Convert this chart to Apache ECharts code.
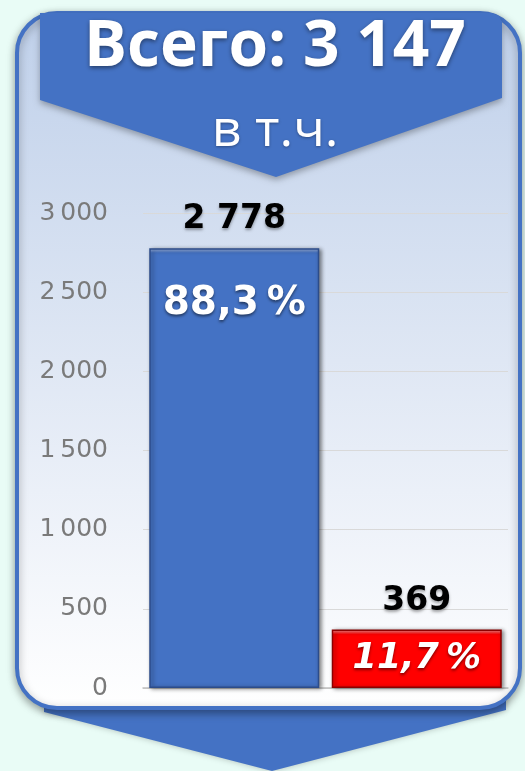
<!DOCTYPE html>
<html><head><meta charset="utf-8">
<script src="https://cdn.jsdelivr.net/npm/echarts@6/dist/echarts.min.js"></script>
<style>html,body{margin:0;padding:0;background:#e9fcf6;}#c{width:525px;height:771px;}</style>
</head><body><div id="c"></div>
<script>
const categories = ['A', 'B'];
const values = [2778, 369];
const barColors = ['#4472c4', '#ff0000'];
const barTops = ['#a9bfe8', '#ff9a9a'];
const barEdges = ['#2c4c8a', '#8c0000'];
const yTicks = [0, 500, 1000, 1500, 2000, 2500, 3000];
const totalTitle = 'Всего: ';
const subTitle = 'в т.ч.';

const total = values.reduce((a, b) => a + b, 0);
const fmt = (n, sp) => String(n).replace(/\B(?=(\d{3})+(?!\d))/g, sp || ' ');
const pct = v => (v / total * 100).toFixed(1).replace('.', ',') + '\u2009%';
const NUMFONT = '"DejaVu Sans", sans-serif';
const TFONT = '"Open Sans", sans-serif';
const Y_MAX = 3000;

const chart = echarts.init(document.getElementById('c'), null, {renderer: 'canvas'});
const topStrip = v => Math.min(0.2, 0.01 * Y_MAX / v);
chart.setOption({
  backgroundColor: '#e9fcf6',
  animation: false,
  graphic: [
    { type: 'polygon', z: -12, shape: { points: [[44, 690], [506, 690], [506, 710], [272, 771], [44, 712]] },
      style: { fill: '#4472c4', shadowBlur: 6, shadowColor: 'rgba(0,0,0,0.25)' } },
    { type: 'rect', z: -11, shape: { x: 17, y: 13, width: 503, height: 695, r: 40 },
      style: { fill: { type: 'linear', x: 0, y: 0, x2: 0, y2: 1, colorStops: [
        { offset: 0, color: '#bfd0ea' }, { offset: 0.5, color: '#dfe7f4' }, { offset: 1, color: '#ffffff' }] },
        stroke: '#4472c4', lineWidth: 4, shadowBlur: 8, shadowColor: 'rgba(0,0,0,0.35)', shadowOffsetY: 3 } },
    { type: 'polygon', z: -10, shape: { points: [[40, 13], [492, 13], [499, 16], [502, 22], [502, 98], [276, 177], [40, 100]] },
      style: { fill: '#4472c4', shadowBlur: 6, shadowColor: 'rgba(0,0,0,0.3)', shadowOffsetY: 3 } },
    { type: 'text', z: 50, x: 275, y: 48, style: { text: totalTitle + fmt(total), fill: '#ffffff',
      font: 'bold 64px ' + TFONT, align: 'center', verticalAlign: 'middle',
      textShadowBlur: 4, textShadowColor: 'rgba(0,0,0,0.45)', textShadowOffsetY: 2 } },
    { type: 'text', z: 50, x: 275, y: 131, style: { text: subTitle, fill: '#ffffff',
      font: '52px ' + TFONT, align: 'center', verticalAlign: 'middle',
      textShadowBlur: 3, textShadowColor: 'rgba(0,0,0,0.35)', textShadowOffsetY: 1 } }
  ],
  grid: { left: 143, right: 17, top: 213, bottom: 83 },
  xAxis: {
    type: 'category', data: categories,
    axisLine: { lineStyle: { color: '#bfbfbf', width: 1.5 } },
    axisTick: { show: false }, axisLabel: { show: false }
  },
  yAxis: {
    type: 'value', min: 0, max: Y_MAX, interval: 500,
    axisLine: { show: false }, axisTick: { show: false },
    splitLine: { lineStyle: { color: '#d9d9d9' } },
    axisLabel: { margin: 35, color: '#7a7a7a', fontSize: 25, fontFamily: NUMFONT,
      formatter: v => yTicks.includes(v) ? fmt(v, '\u2009') : '' }
  },
  series: [
    {
      type: 'bar', barWidth: 170, z: 5,
      data: values.map((v, i) => ({
        value: v,
        itemStyle: {
          color: { type: 'linear', x: 0, y: 0, x2: 0, y2: 1, colorStops: [
            { offset: 0, color: barTops[i] }, { offset: topStrip(v), color: barColors[i] }, { offset: 1, color: barColors[i] }] },
          borderColor: barEdges[i], borderWidth: 1.5,
          shadowBlur: 4, shadowColor: 'rgba(0,0,0,0.45)', shadowOffsetX: 2, shadowOffsetY: 1 }
      })),
      label: { show: true, position: 'top', distance: 12, formatter: p => fmt(p.value),
        color: '#000', fontWeight: 'bold', fontSize: 33, fontFamily: NUMFONT,
        textShadowBlur: 3, textShadowColor: 'rgba(0,0,0,0.35)', textShadowOffsetY: 2 }
    },
    {
      type: 'bar', barWidth: 170, barGap: '-100%', z: 6, silent: true,
      data: values.map((v, i) => ({
        value: v,
        itemStyle: { color: 'transparent' },
        label: i === 0
          ? { show: true, position: 'insideTop', distance: 36, fontSize: 39, fontStyle: 'normal' }
          : { show: true, position: 'inside', fontSize: 35, fontStyle: 'italic' }
      })),
      label: { show: true, formatter: p => pct(p.value), color: '#fff', fontWeight: 'bold', fontFamily: NUMFONT,
        textShadowBlur: 3, textShadowColor: 'rgba(0,0,0,0.5)', textShadowOffsetY: 2 }
    }
  ]
});
</script></body></html>
